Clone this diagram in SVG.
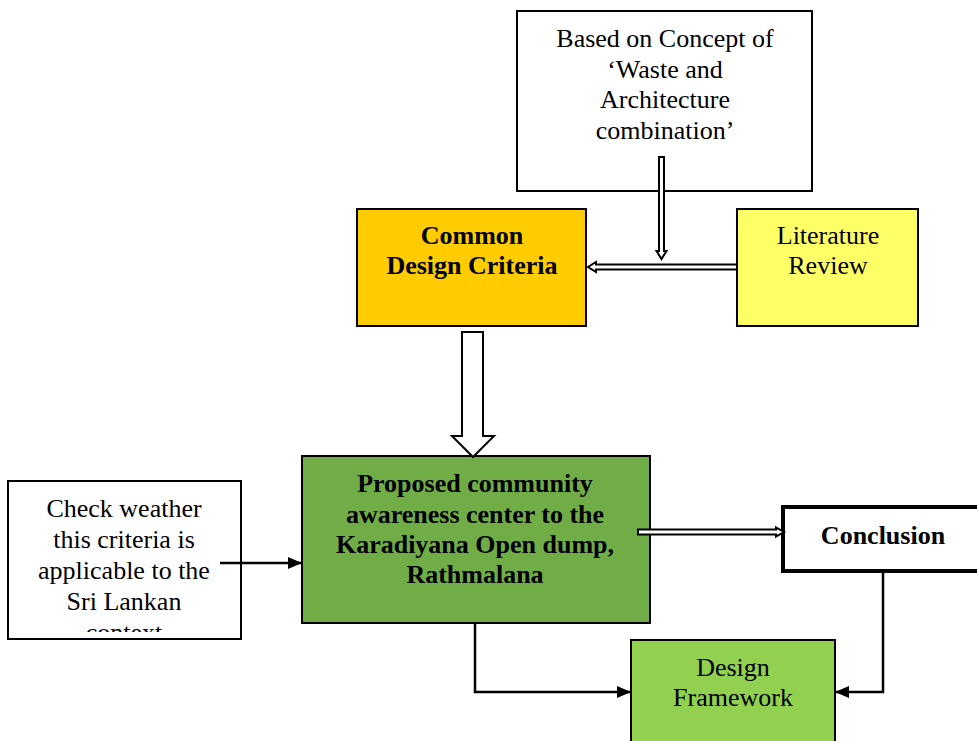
<svg xmlns="http://www.w3.org/2000/svg" width="977" height="741" viewBox="0 0 977 741">
<style>
  text { font-family: "Liberation Serif", "Times New Roman", serif; font-size: 26px; fill: #000; text-anchor: middle; }
  .b { font-weight: bold; }
  .box { stroke: #000; stroke-width: 2; }
  .conn { fill: none; stroke: #000; stroke-width: 2.5; }
  .dbl { fill: #fff; stroke: #000; stroke-width: 2; stroke-linejoin: miter; }
</style>
<defs>
  <marker id="tri" markerWidth="14" markerHeight="12" refX="14" refY="6" orient="auto" markerUnits="userSpaceOnUse">
    <path d="M0,0 L14,6 L0,12 Z" fill="#000"/>
  </marker>
  <clipPath id="leftclip"><rect x="8" y="481" width="233" height="151"/></clipPath>
</defs>
<rect width="977" height="741" fill="#fff"/>

<g id="concept">
  <rect class="box" x="517" y="11" width="295" height="180" fill="#fff"/>
  <text x="665" y="47">Based on Concept of</text>
  <text x="665" y="78">‘Waste and</text>
  <text x="665" y="108">Architecture</text>
  <text x="665" y="139">combination’</text>
</g>

<g id="common">
  <rect class="box" x="357" y="209" width="229" height="117" fill="#FFCC00"/>
  <text class="b" x="472" y="244">Common</text>
  <text class="b" x="472" y="274">Design Criteria</text>
</g>

<g id="literature">
  <rect class="box" x="737" y="209" width="181" height="117" fill="#FFFF66"/>
  <text x="828" y="244">Literature</text>
  <text x="828" y="274">Review</text>
</g>

<g id="proposed">
  <rect class="box" x="302" y="456" width="348" height="167" fill="#70AD47"/>
  <text class="b" x="475" y="492">Proposed community</text>
  <text class="b" x="475" y="523">awareness center to the</text>
  <text class="b" x="475" y="553">Karadiyana Open dump,</text>
  <text class="b" x="475" y="583">Rathmalana</text>
</g>

<g id="check">
  <rect class="box" x="8" y="481" width="233" height="158" fill="#fff"/>
  <g clip-path="url(#leftclip)">
    <text x="124" y="517">Check weather</text>
    <text x="124" y="548">this criteria is</text>
    <text x="124" y="579">applicable to the</text>
    <text x="124" y="610">Sri Lankan</text>
    <text x="124" y="641">context</text>
  </g>
</g>

<g id="conclusion">
  <rect x="783" y="507" width="210" height="64" fill="#fff" stroke="#000" stroke-width="4"/>
  <text class="b" x="883" y="544">Conclusion</text>
</g>

<g id="framework">
  <rect class="box" x="631" y="640" width="204" height="120" fill="#92D050"/>
  <text x="733" y="676">Design</text>
  <text x="733" y="706">Framework</text>
</g>

<g id="connectors">
  <path class="dbl" d="M659,157 L659,251 L656.5,251 L661.5,259 L666.5,251 L664,251 L664,157 Z"/>
  <path class="dbl" d="M737,264.5 L596,264.5 L596,262 L588,267 L596,272 L596,269.5 L737,269.5 Z"/>
  <path fill="#fff" stroke="#000" stroke-width="2" d="M462,332 L483,332 L483,436 L494,436 L473,457 L452,436 L462,436 Z"/>
  <path class="dbl" d="M638,529.5 L776,529.5 L776,527.5 L784,532 L776,536.5 L776,534.5 L638,534.5 Z"/>
  <path class="conn" d="M220,563 L302,563" marker-end="url(#tri)"/>
  <path class="conn" d="M475,623 L475,692 L631,692" marker-end="url(#tri)"/>
  <path class="conn" d="M883,571 L883,692 L835,692" marker-end="url(#tri)"/>
</g>
</svg>
